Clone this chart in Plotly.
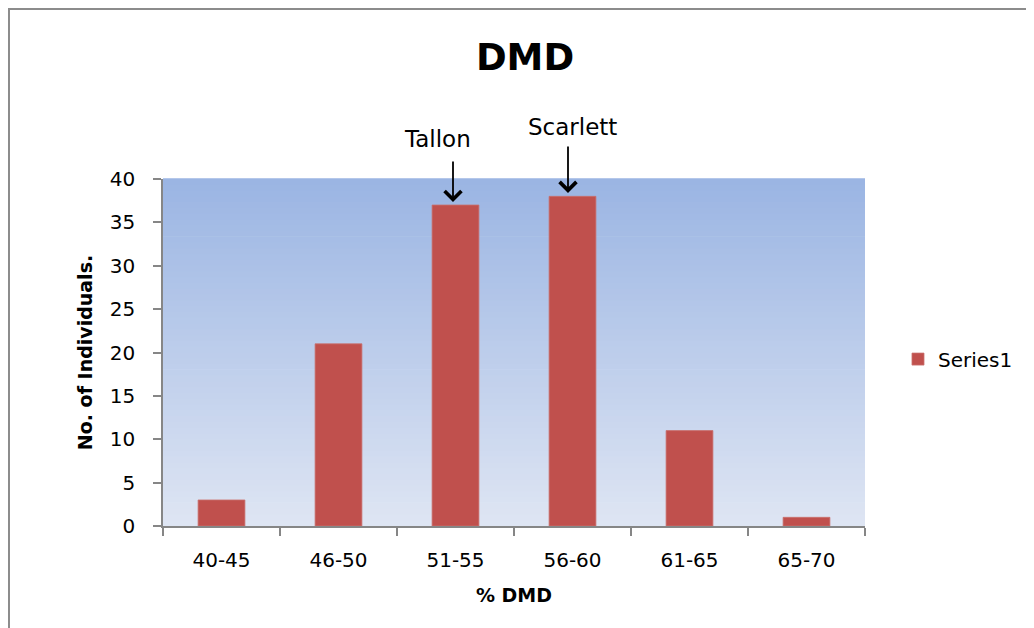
import plotly.graph_objects as go

categories = ["40-45", "46-50", "51-55", "56-60", "61-65", "65-70"]
individuals = [3, 21, 37, 38, 11, 1]
series_name = "Series1"
y_ticks = [0, 5, 10, 15, 20, 25, 30, 35, 40]
callouts = [("Tallon", "51-55"), ("Scarlett", "56-60")]

FONT = "DejaVu Sans"
BAR = "#C0504D"
AXIS = "#868686"

fig = go.Figure()
fig.add_trace(go.Bar(
    x=categories, y=individuals, name=series_name,
    marker=dict(color=BAR, line=dict(color="#C9706D", width=0.8)),
    showlegend=True,
))

# gradient plot background (strips in axis-domain coordinates)
top = (155, 181, 227)
bot = (222, 229, 243)
n = 60
shapes = []
for i in range(n):
    t = i / (n - 1)
    c = tuple(round(bot[k] + (top[k] - bot[k]) * t) for k in range(3))
    shapes.append(dict(type="rect", xref="x domain", yref="y domain",
                       x0=0, x1=1, y0=i / n, y1=(i + 1) / n + 0.002,
                       fillcolor="rgb(%d,%d,%d)" % c, line=dict(width=0),
                       layer="below"))
# outer chart frame
shapes.append(dict(type="rect", xref="paper", yref="paper",
                   x0=-0.2194, x1=1.6, y0=-0.6, y1=1.4899,
                   line=dict(color="#8C8C8C", width=2), fillcolor="rgba(0,0,0,0)",
                   layer="below"))

annotations = [
    # arrows
    dict(x=callouts[0][1], y=37.35, xref="x", yref="y", text="", showarrow=True,
         ax=0, ay=-42, xshift=-2.5, arrowhead=4, arrowsize=1.8, arrowwidth=1.8,
         arrowcolor="black", standoff=0),
    dict(x=callouts[1][1], y=38.4, xref="x", yref="y", text="", showarrow=True,
         ax=0, ay=-48, xshift=-4.5, arrowhead=4, arrowsize=1.8, arrowwidth=1.8,
         arrowcolor="black", standoff=0),
    # labels
    dict(x=callouts[0][1], y=1.1153, xref="x", yref="paper", text=callouts[0][0],
         showarrow=False, xshift=-18.5, yanchor="middle",
         font=dict(family=FONT, size=23, color="black")),
    dict(x=callouts[1][1], y=1.150, xref="x", yref="paper", text=callouts[1][0],
         showarrow=False, xshift=0, yanchor="middle",
         font=dict(family=FONT, size=23, color="black")),
]

fig.update_layout(
    width=1034, height=628,
    margin=dict(l=155, r=177, t=171, b=110, autoexpand=False),
    paper_bgcolor="white", plot_bgcolor="rgba(0,0,0,0)",
    font=dict(family=FONT, size=20, color="black"),
    title=dict(text="<b>DMD</b>", x=0.5, xref="container", xanchor="center",
               y=1 - 49.5 / 628, yref="container", yanchor="middle",
               font=dict(family=FONT, size=37, color="black")),
    bargap=0.6,
    shapes=shapes,
    annotations=annotations,
    legend=dict(x=1.047, xanchor="left", y=0.481, yanchor="middle",
                font=dict(family=FONT, size=20, color="black"),
                bgcolor="rgba(0,0,0,0)"),
    xaxis=dict(type="category", showline=True, linecolor=AXIS, linewidth=1.5,
               ticks="outside", tickson="boundaries", ticklen=8, tickcolor=AXIS,
               tickwidth=1.5, showgrid=False, ticklabelstandoff=15,
               tickfont=dict(family=FONT, size=20, color="black"),
               title=dict(text="<b>% DMD</b>", standoff=18,
                          font=dict(family=FONT, size=19, color="black"))),
    yaxis=dict(range=[0, 40], tickvals=y_ticks, showline=True, linecolor=AXIS,
               linewidth=1.5, ticks="outside", ticklen=8, tickcolor=AXIS,
               tickwidth=1.5, showgrid=False, zeroline=False,
               ticklabelstandoff=14,
               tickfont=dict(family=FONT, size=20, color="black"),
               title=dict(text="<b>No. of Individuals.</b>", standoff=12,
                          font=dict(family=FONT, size=19, color="black"))),
)

fig.write_html("out.html")
